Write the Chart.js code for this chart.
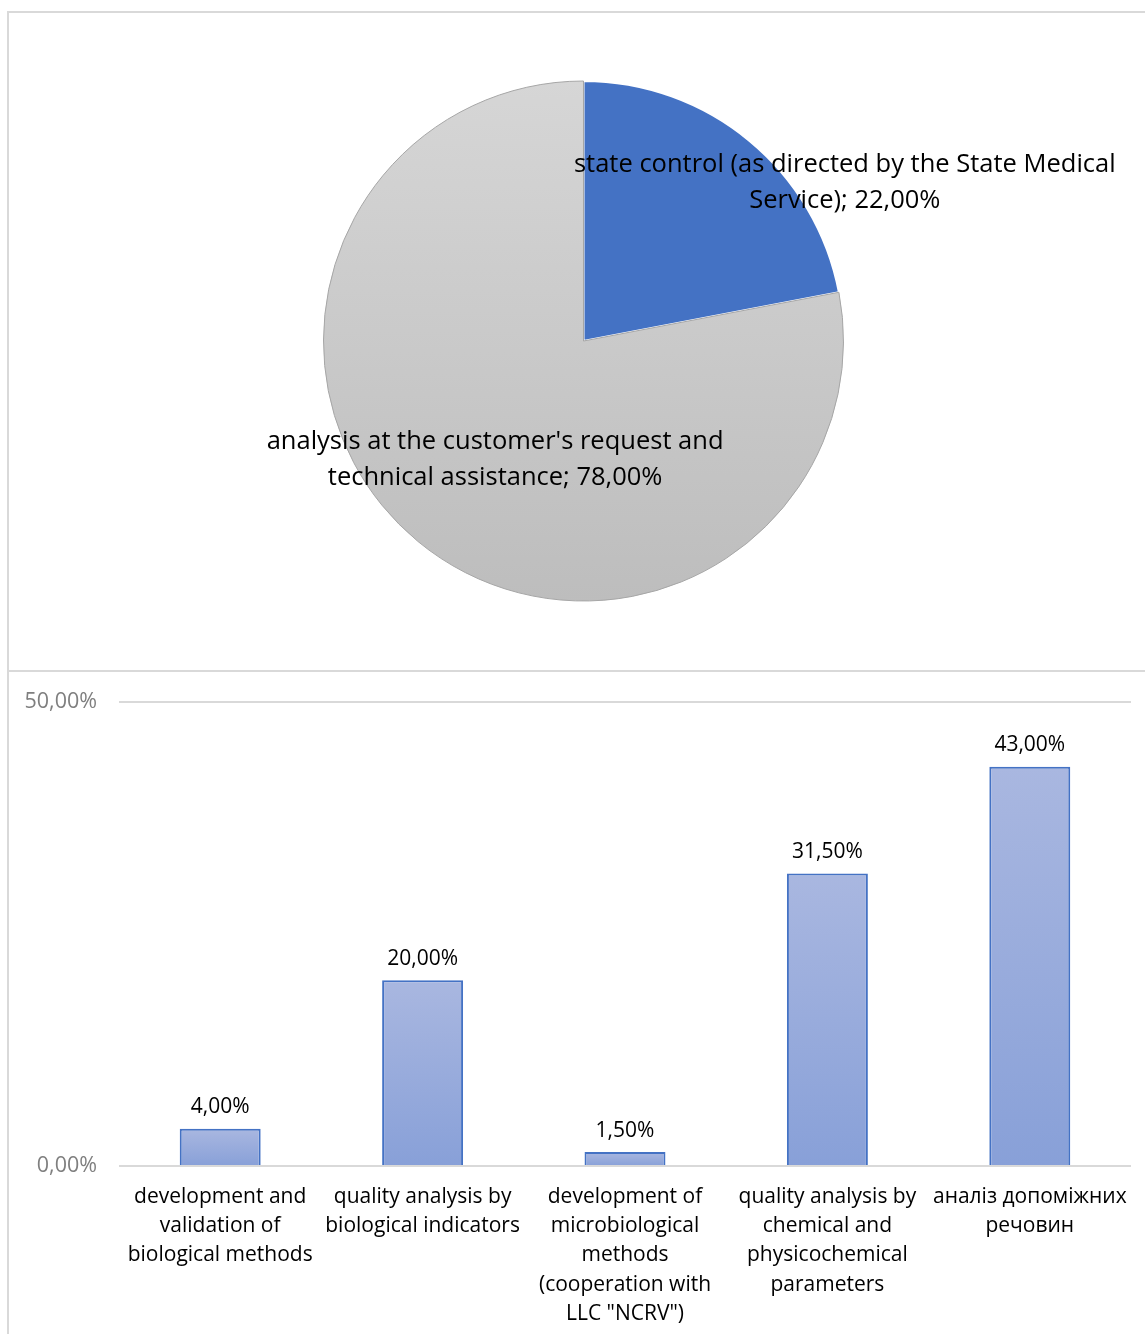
<!DOCTYPE html>
<html>
<head>
<meta charset="utf-8">
<script src="https://cdn.jsdelivr.net/npm/chart.js@4.4.1/dist/chart.umd.min.js"></script>
<style>
  body { margin: 0; background: #fff; width: 1145px; height: 1334px; overflow: hidden; position: relative; }
  .frame { position: absolute; border: 2px solid #d9d9d9; border-right: none; box-sizing: border-box; }
  #pieBox { left: 7px; top: 11px; width: 1140px; height: 661px; border-bottom: none; }
  #barBox { left: 7px; top: 670px; width: 1140px; height: 670px; border-bottom: none; }
  canvas { position: absolute; }
</style>
</head>
<body>
<div id="pieBox" class="frame"></div>
<div id="barBox" class="frame"></div>
<canvas id="piecanvas" style="left:0;top:0"></canvas>
<canvas id="barcanvas" style="left:10px;top:667px"></canvas>
<script>
var pieLabels = [
	["state control (as directed by the State Medical", "Service); 22,00%"],
	["analysis at the customer's request and", "technical assistance; 78,00%"]
];
var pieValues = [22, 78];

var barLabels = [
	["development and", "validation of", "biological methods"],
	["quality analysis by", "biological indicators"],
	["development of", "microbiological", "methods", "(cooperation with", "LLC \"NCRV\")"],
	["quality analysis by", "chemical and", "physicochemical", "parameters"],
	["аналіз допоміжних", "речовин"]
];
var barValues = [4, 20, 1.5, 31.5, 43];
var yTicks = [0, 50];

var FONT = "'Open Sans', sans-serif";

function pct(v) {
	return v.toFixed(2).replace(".", ",") + "%";
}

// pie labels, placed relative to the pie centre and radius
var pieLabelOffsets = [[1.005, -0.61], [-0.34, 0.455]];
var pieLabelPlugin = {
	id: "pieLabels",
	afterDatasetsDraw: function(chart) {
		var c = chart.ctx;
		var arc = chart.getDatasetMeta(0).data[0];
		var r = arc.outerRadius;
		c.save();
		c.font = "25.5px " + FONT;
		c.fillStyle = "#000";
		c.textAlign = "center";
		c.textBaseline = "middle";
		for (var i = 0; i < pieLabels.length; i++) {
			var x = arc.x + pieLabelOffsets[i][0] * r;
			var y = arc.y + pieLabelOffsets[i][1] * r;
			var lines = pieLabels[i];
			for (var j = 0; j < lines.length; j++) {
				c.fillText(lines[j], x, y + (j - (lines.length - 1) / 2) * 36);
			}
		}
		c.restore();
	}
};

var pieCanvas = document.getElementById("piecanvas");
pieCanvas.width = 1145; pieCanvas.height = 670;
pieCanvas.style.width = "1145px"; pieCanvas.style.height = "670px";

new Chart(pieCanvas, {
	type: "pie",
	data: {
		labels: pieLabels,
		datasets: [{
			data: pieValues,
			backgroundColor: function(context) {
				var chart = context.chart;
				if (context.dataIndex === 0) return "#4472c4";
				var area = chart.chartArea;
				if (!area) return "#c8c8c8";
				var g = chart.ctx.createLinearGradient(0, area.top, 0, area.bottom);
				g.addColorStop(0, "#d6d6d6");
				g.addColorStop(1, "#bdbdbd");
				return g;
			},
			borderColor: ["#ffffff", "#a6a6a6"],
			borderWidth: [2, 1]
		}]
	},
	options: {
		responsive: false,
		animation: false,
		layout: { padding: { left: 322, right: 300, top: 80, bottom: 68 } },
		plugins: { legend: { display: false }, tooltip: { enabled: false } }
	},
	plugins: [pieLabelPlugin]
});

// values above bars
var barValuePlugin = {
	id: "barValues",
	afterDatasetsDraw: function(chart) {
		var c = chart.ctx;
		var meta = chart.getDatasetMeta(0);
		c.save();
		c.font = "21px " + FONT;
		c.fillStyle = "#000";
		c.textAlign = "center";
		c.textBaseline = "bottom";
		meta.data.forEach(function(bar, i) {
			c.fillText(pct(barValues[i]), bar.x, bar.y - 11);
		});
		c.restore();
	}
};

var barCanvas = document.getElementById("barcanvas");
barCanvas.width = 1135; barCanvas.height = 667;
barCanvas.style.width = "1135px"; barCanvas.style.height = "667px";

new Chart(barCanvas, {
	type: "bar",
	data: {
		labels: barLabels,
		datasets: [{
			data: barValues,
			backgroundColor: function(context) {
				var chart = context.chart;
				var ys = chart.scales.y;
				if (!ys || context.dataIndex === undefined) return "#9aaedc";
				var top = ys.getPixelForValue(barValues[context.dataIndex]);
				var bottom = ys.getPixelForValue(0);
				if (!isFinite(top) || !isFinite(bottom) || top === bottom) return "#9aaedc";
				var g = chart.ctx.createLinearGradient(0, top, 0, bottom);
				g.addColorStop(0, "#a9b7e0");
				g.addColorStop(1, "#88a0d8");
				return g;
			},
			borderColor: "#4472c4",
			borderWidth: 2,
			categoryPercentage: 1,
			barPercentage: 0.4
		}]
	},
	options: {
		responsive: false,
		animation: false,
		layout: { padding: { top: 22, right: 14, left: 0, bottom: 0 } },
		plugins: { legend: { display: false }, tooltip: { enabled: false } },
		scales: {
			x: {
				grid: { display: false, drawTicks: false },
				border: { display: false },
				ticks: {
					color: "#000",
					font: { family: FONT, size: 21, lineHeight: 1.4 },
					maxRotation: 0,
					autoSkip: false,
					padding: 16
				},
				afterFit: function(scale) { scale.height = 168; }
			},
			y: {
				min: 0,
				max: 50,
				afterBuildTicks: function(scale) {
					scale.ticks = yTicks.map(function(v) { return { value: v }; });
				},
				grid: { color: "#d9d9d9", lineWidth: 2, drawTicks: false },
				border: { display: false },
				ticks: {
					color: "#7f7f7f",
					font: { family: FONT, size: 21.5 },
					padding: 22,
					callback: function(v) { return pct(v); }
				},
				afterFit: function(scale) { scale.width = 109; }
			}
		}
	},
	plugins: [barValuePlugin]
});
</script>
</body>
</html>
